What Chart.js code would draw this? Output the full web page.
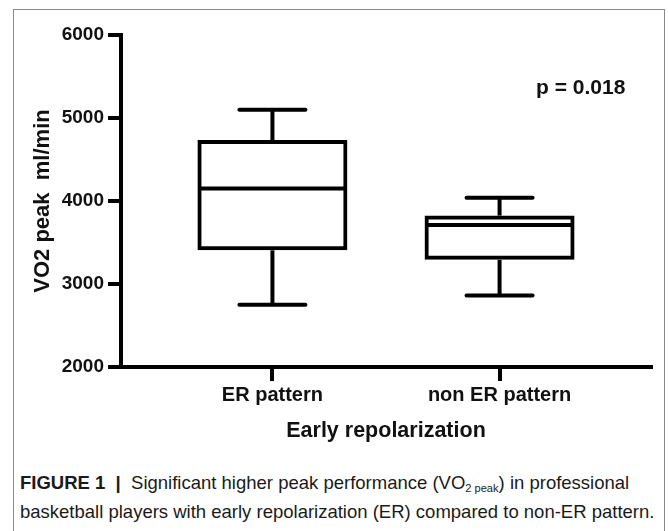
<!DOCTYPE html>
<html>
<head>
<meta charset="utf-8">
<script src="https://cdn.jsdelivr.net/npm/chart.js@4"></script>
<style>
    html, body { margin: 0; padding: 0; width: 668px; height: 531px; overflow: hidden; background: #fff; }
    #frame { position: absolute; left: 13px; top: 9px; width: 650px; height: 600px; border: 1px solid #8a8a8a; }
    #myChart { position: absolute; left: 14px; top: 10px; }
    #pval { position: absolute; left: 536px; top: 76px; font: bold 21px "Liberation Sans", Arial, sans-serif; line-height: 21px; color: #111; white-space: nowrap; }
    #caption { position: absolute; left: 20px; top: 468px; font: 18.5px "Liberation Sans", Arial, sans-serif; line-height: 29px; color: #1a1a1a; white-space: nowrap; }
    #caption sub { font-size: 60%; vertical-align: -3px; line-height: 0; }
</style>
</head>
<body>
<div id="frame"></div>
<canvas id="myChart" width="650" height="445"></canvas>
<div id="pval">p = 0.018</div>
<div id="caption"><b>FIGURE 1</b>&nbsp; <b>|</b>&nbsp; Significant higher peak performance (VO<sub>2 peak</sub>) in professional<br>basketball players with early repolarization (ER) compared to non-ER pattern.</div>
<script>
// boxplot values (ml/min)
const categories = ['ER pattern', 'non ER pattern'];
const whiskerMin = [2750, 2860];
const quartile1 = [3430, 3315];
const medians = [4150, 3710];
const quartile3 = [4710, 3800];
const whiskerMax = [5100, 4040];
const yTicks = [2000, 3000, 4000, 5000, 6000];

var ctx = document.getElementById('myChart');

// whiskers, caps and median lines on top of the boxes
const whiskerPlugin = {
    id: 'whiskers',
    afterDatasetsDraw(chart) {
        const xs = chart.scales.x;
        const ys = chart.scales.y;
        const c = chart.ctx;
        const half = chart.data.datasets[0].barThickness / 2;
        c.save();
        c.strokeStyle = '#000';
        c.lineWidth = 4;
        function line(x1, y1, x2, y2, cap) {
            c.lineCap = cap;
            c.beginPath();
            c.moveTo(x1, y1);
            c.lineTo(x2, y2);
            c.stroke();
        }
        categories.forEach((name, i) => {
            const cx = xs.getPixelForValue(i);
            const yMax = ys.getPixelForValue(whiskerMax[i]);
            const yMin = ys.getPixelForValue(whiskerMin[i]);
            line(cx, ys.getPixelForValue(quartile3[i]) - 2, cx, yMax, 'butt');
            line(cx, ys.getPixelForValue(quartile1[i]) + 2, cx, yMin, 'butt');
            line(cx - 33, yMax, cx + 33, yMax, 'round');
            line(cx - 33, yMin, cx + 33, yMin, 'round');
            const yMed = ys.getPixelForValue(medians[i]);
            line(cx - half, yMed, cx + half, yMed, 'butt');
        });
        c.restore();
    }
};

const boxes = categories.map((name, i) => ({ x: i, y: [quartile1[i], quartile3[i]] }));

const font = '"Liberation Sans", Arial, sans-serif';

var myChart = new Chart(ctx, {
    type: 'bar',
    data: {
        datasets: [
            {
                data: boxes,
                backgroundColor: '#ffffff',
                borderColor: '#000000',
                borderWidth: 4,
                borderSkipped: false,
                inflateAmount: 2,
                barThickness: 146
            }
        ]
    },
    plugins: [whiskerPlugin],
    options: {
        responsive: false,
        animation: false,
        layout: {
            padding: { top: 25, right: 13, left: 0, bottom: 0 }
        },
        plugins: {
            legend: { display: false },
            tooltip: { enabled: false }
        },
        scales: {
            x: {
                type: 'linear',
                min: -2 / 3,
                max: 5 / 3,
                offset: false,
                afterBuildTicks: (scale) => {
                    scale.ticks = categories.map((name, i) => ({ value: i }));
                },
                afterFit: (scale) => { scale.height = 88; },
                border: { display: true, color: '#000', width: 4 },
                grid: {
                    offset: false,
                    drawOnChartArea: false,
                    drawTicks: true,
                    tickLength: 14,
                    lineWidth: 4,
                    tickWidth: 4,
                    color: '#000',
                    tickColor: '#000'
                },
                ticks: {
                    autoSkip: false,
                    maxRotation: 0,
                    padding: 2,
                    color: '#111',
                    font: { family: font, size: 20, weight: 'bold' },
                    callback: (value, index) => categories[index]
                },
                title: {
                    display: true,
                    text: 'Early repolarization',
                    color: '#111',
                    font: { family: font, size: 21.5, weight: 'bold' },
                    padding: { top: 0, bottom: 11 }
                }
            },
            y: {
                min: yTicks[0],
                max: yTicks[yTicks.length - 1],
                beginAtZero: false,
                afterBuildTicks: (scale) => {
                    scale.ticks = yTicks.map(v => ({ value: v }));
                },
                afterFit: (scale) => { scale.width = 107; },
                border: { display: true, color: '#000', width: 4 },
                grid: {
                    drawOnChartArea: false,
                    drawTicks: true,
                    tickLength: 13,
                    lineWidth: 4,
                    tickWidth: 4,
                    color: '#000',
                    tickColor: '#000'
                },
                ticks: {
                    padding: 4,
                    color: '#111',
                    font: { family: font, size: 19, weight: 'bold' },
                    callback: (value) => String(value)
                },
                title: {
                    display: true,
                    text: 'VO2 peak  ml/min',
                    color: '#111',
                    font: { family: font, size: 22, weight: 'bold' },
                    padding: { top: 16, bottom: 0 }
                }
            }
        }
    }
});
</script>
</body>
</html>
